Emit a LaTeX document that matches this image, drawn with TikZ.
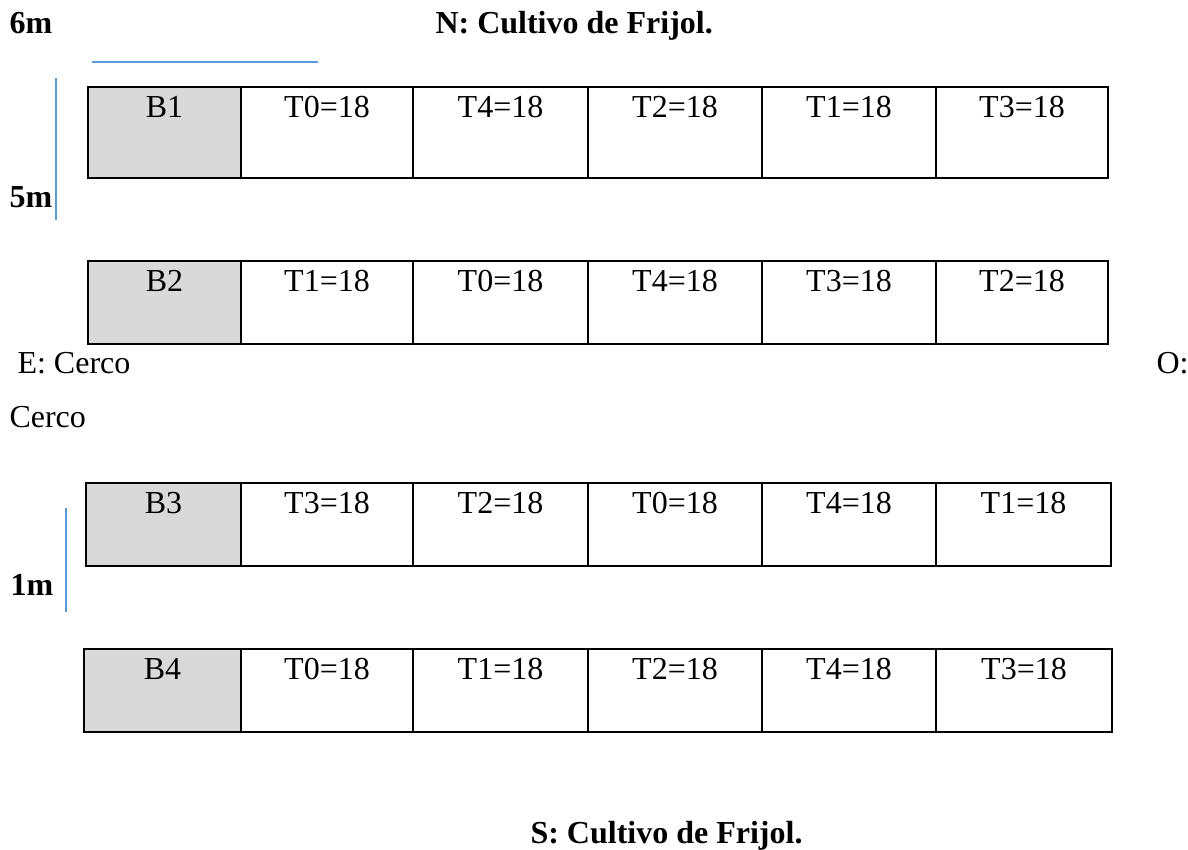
\documentclass[tikz,border=0pt]{standalone}
\usepackage{fontspec}
\setmainfont{Liberation Serif}
\definecolor{azul}{RGB}{91,155,213}
\definecolor{gris}{RGB}{217,217,217}
\tikzset{
  borde/.style={line width=0.9pt},
  bloque/.style={fill=gris},
  guia/.style={azul, line width=0.6pt},
  celda/.style={anchor=base, inner sep=0pt},
  rotulo/.style={anchor=base west, inner sep=0pt},
  negrita/.style={rotulo, font=\fontsize{12}{14}\selectfont\bfseries}
}
\begin{document}
\begin{tikzpicture}[x=0.375pt, y=-0.375pt, font=\fontsize{12}{14}\selectfont, line join=miter]
		\useasboundingbox (0,0) rectangle (1188,850);
		% parcelas
		\foreach \r/\top/\bot/\lft/\rgt/\ta/\tb/\tc/\td/\te/\tf in {
			1/87/178/88/1108/B1/T0/T4/T2/T1/T3,
			2/261/344/88/1108/B2/T1/T0/T4/T3/T2,
			3/483/566/86/1111/B3/T3/T2/T0/T4/T1,
			4/649/732/84/1112/B4/T0/T1/T2/T4/T3}
		{
			\fill[bloque] (\lft,\top) rectangle (241,\bot);
			\draw[borde] (\lft,\top) rectangle (\rgt,\bot);
			\foreach \x in {241,413,588,762,936}
			\draw[borde] (\x,\top) -- (\x,\bot);
			\node[celda] (b\r) at ({(\lft+241)/2},\top+30) {\ta};
			\foreach \t/\xa/\xb [count=\i] in {\tb/241/413, \tc/413/588, \td/588/762, \te/762/936, \tf/936/\rgt}
			\node[celda] (b\r t\i) at ({(\xa+\xb)/2},\top+30) {\t=18};
		}
		% medidas
		\draw[guia] (92,62) -- (318,62);
		\draw[guia] (56,78) -- (56,220);
		\draw[guia] (66,508) -- (66,612);
		\node[negrita] (seis) at (9,33) {6m};
		\node[negrita] (cinco) at (9,207) {5m};
		\node[negrita] (uno) at (10,595) {1m};
		% linderos
		\node[negrita] (norte) at (435,33) {N: Cultivo de Frijol.};
		\node[rotulo] (este) at (17,373) {E: Cerco};
		\node[rotulo] (oeste) at (1156,373) {O:};
		\node[rotulo] (cerco) at (9,427) {Cerco};
		\node[negrita] (sur) at (530,843) {S: Cultivo de Frijol.};
\end{tikzpicture}
\end{document}
